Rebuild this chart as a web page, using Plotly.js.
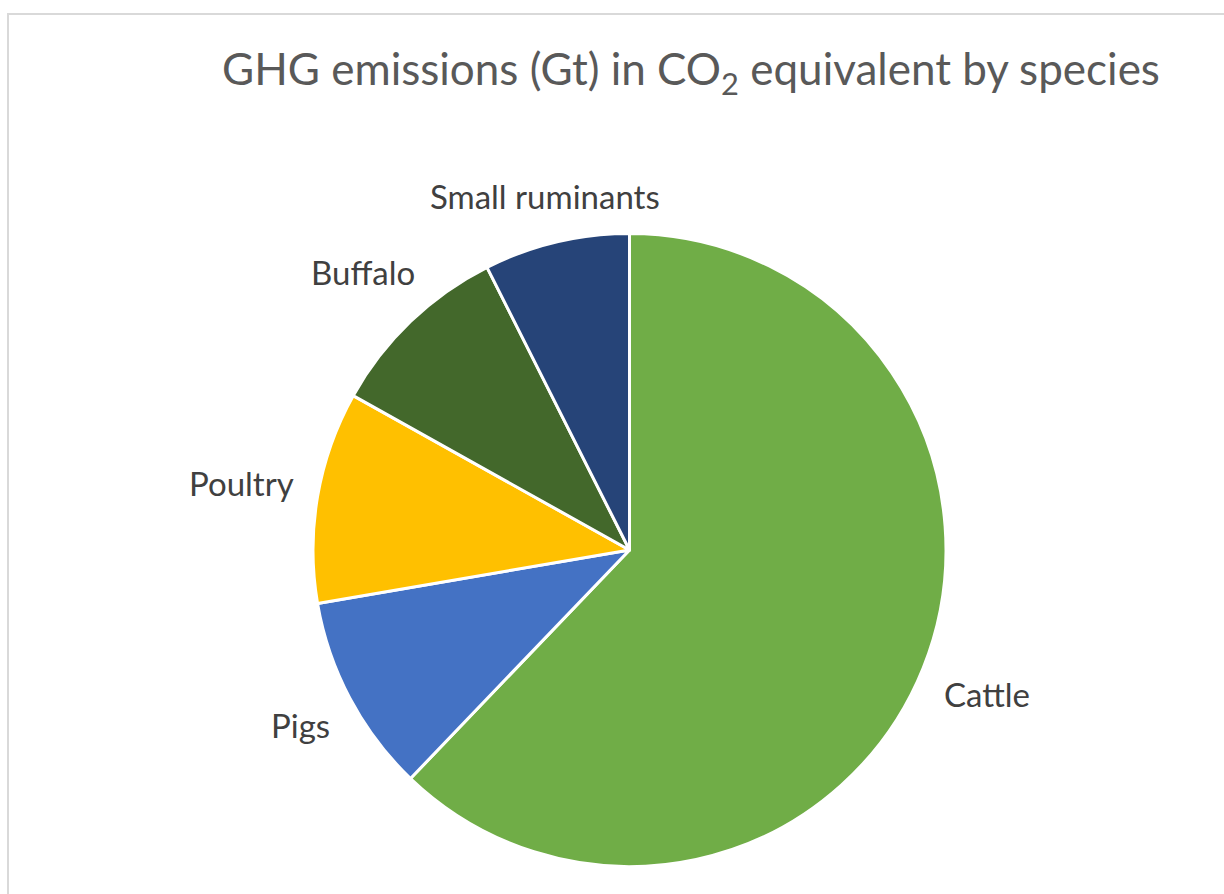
<!DOCTYPE html>
<html>
<head>
<meta charset="utf-8">
<script src="https://cdn.plot.ly/plotly-3.0.1.min.js"></script>
<style>
  html, body { margin: 0; padding: 0; background: #fff; overflow: hidden; }
  #frame { position: absolute; left: 7px; top: 13px; width: 1400px; height: 1000px;
           border-left: 2px solid #D9D9D9; border-top: 2px solid #D9D9D9; }
  #chart { position: absolute; left: 0; top: 0; width: 1224px; height: 894px; }
</style>
</head>
<body>
<div id="frame"></div>
<div id="chart"></div>
<script>
const species = ["Cattle", "Pigs", "Poultry", "Buffalo", "Small ruminants"];
const emissions = [4.6, 0.75, 0.8, 0.7, 0.55];
const colors = ["#70AD47", "#4472C4", "#FFC000", "#43682B", "#264478"];

const W = 1224, H = 894;
const FONT = "Lato, 'Open Sans', sans-serif";
const LABEL_SIZE = 33;
const domain = { x: [313/W, 946/W], y: [27.5/H, 660.5/H] };

// Label placement (Excel-style outside-end labels), derived from the data values
const cxPx = (domain.x[0] + domain.x[1]) / 2 * W;
const cyPx = H - (domain.y[0] + domain.y[1]) / 2 * H;
const rPx = Math.min((domain.x[1] - domain.x[0]) * W, (domain.y[1] - domain.y[0]) * H) / 2;
const gap = 23;
const ctx = document.createElement("canvas").getContext("2d");
ctx.font = LABEL_SIZE + "px Lato";
const total = emissions.reduce((a, b) => a + b, 0);
let cum = 0;
const annotations = species.map((name, i) => {
  const mid = (cum + emissions[i] / 2) / total * 2 * Math.PI;
  cum += emissions[i];
  const ux = Math.sin(mid), uy = -Math.cos(mid);
  const hw = ctx.measureText(name).width / 2, hh = LABEL_SIZE * 0.45;
  let lo = 0, hi = rPx * 2;
  for (let k = 0; k < 60; k++) {
    const d = (lo + hi) / 2;
    const bx = Math.max(Math.abs(d * ux) - hw, 0), by = Math.max(Math.abs(d * uy) - hh, 0);
    if (Math.hypot(bx, by) < rPx + gap) lo = d; else hi = d;
  }
  const d = (lo + hi) / 2;
  return {
    text: name, showarrow: false, xref: "paper", yref: "paper",
    x: (cxPx + d * ux) / W, y: 1 - (cyPx + d * uy) / H,
    xanchor: "center", yanchor: "middle",
    font: { family: FONT, size: LABEL_SIZE, color: "#404040" }
  };
});

const data = [{
  type: "pie",
  labels: species,
  values: emissions,
  sort: false,
  direction: "clockwise",
  rotation: 0,
  marker: { colors: colors, line: { color: "#FFFFFF", width: 3 } },
  textinfo: "none",
  domain: domain,
  showlegend: false,
  hoverinfo: "label+value"
}];

const layout = {
  width: W, height: H,
  margin: { l: 0, r: 0, t: 0, b: 0 },
  paper_bgcolor: "rgba(0,0,0,0)",
  plot_bgcolor: "rgba(0,0,0,0)",
  showlegend: false,
  annotations: annotations,
  title: {
    text: "GHG emissions (Gt) in CO<sub>2</sub> equivalent by species",
    font: { family: FONT, size: 44, color: "#595959" },
    x: 691/W, xanchor: "center",
    y: 1 - 70/H, yanchor: "middle"
  }
};

Plotly.newPlot("chart", data, layout, { displayModeBar: false, staticPlot: true });
</script>
</body>
</html>
